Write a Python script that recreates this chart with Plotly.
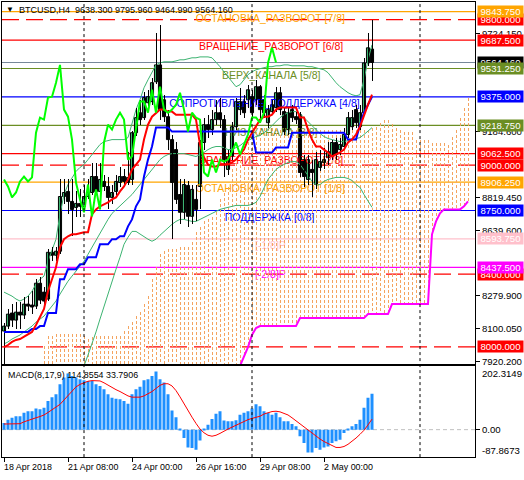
import plotly.graph_objects as go

# ---- price data: BTCUSD H4, first bar 18 Apr 2018 16:00 ----
opens = [8087, 8114, 8186, 8147, 8191, 8175, 8235, 8230, 8224, 8350,
         8301, 8263, 8520, 8504, 8526, 8827, 8855, 8800, 8767, 8789,
         8773, 8827, 8849, 8937, 8855, 8910, 8882, 8822, 8855, 8904,
         8937, 8904, 8921, 9178, 9288, 9261, 9343, 9349, 9458, 9551,
         9359, 9266, 9140, 9085, 8838, 8740, 8888, 8718, 8811, 8882,
         9124, 9222, 9195, 9250, 9288, 9250, 8976, 9047, 9211, 9305,
         9349, 9359, 9376, 9359, 9431, 9359, 9233, 9294, 9316, 9398,
         9294, 9195, 9305, 9266, 9277, 9030, 8921, 8976, 8893, 8987,
         9014, 9041, 9047, 9124, 9085, 9102, 9168, 9211, 9305, 9211,
         9288, 9562, 9638.3]
highs = [8131, 8208, 8235, 8246, 8246, 8273, 8279, 8306, 8372, 8383,
         8328, 8537, 8548, 8548, 8921, 8921, 8921, 8921, 8855, 8866,
         8893, 8921, 9014, 9014, 9014, 8948, 8937, 8893, 8948, 8987,
         8976, 9074, 9189, 9316, 9359, 9403, 9414, 9480, 9727, 9771,
         9387, 9305, 9168, 9129, 8921, 8921, 8910, 8893, 8893, 9140,
         9261, 9277, 9305, 9359, 9371, 9277, 9085, 9239, 9371, 9425,
         9387, 9442, 9414, 9469, 9442, 9387, 9332, 9359, 9431, 9431,
         9316, 9316, 9332, 9294, 9294, 9058, 9058, 9030, 9074, 9085,
         9096, 9129, 9140, 9151, 9151, 9206, 9294, 9305, 9332, 9332,
         9590, 9727, 9795.96]
lows = [7900, 8098, 8109, 8098, 8098, 8153, 8197, 8180, 8208, 8235,
        8235, 8252, 8471, 8471, 8509, 8784, 8729, 8608, 8712, 8712,
        8745, 8811, 8833, 8833, 8838, 8855, 8756, 8784, 8833, 8877,
        8888, 8888, 8893, 9162, 9222, 9250, 9327, 9332, 9447, 9250,
        9239, 9085, 8592, 8784, 8674, 8701, 8657, 8674, 8690, 8756,
        9085, 9151, 9168, 9222, 9206, 8937, 8948, 9030, 9195, 9277,
        9261, 9316, 9261, 9332, 9250, 9261, 9206, 9277, 9294, 9277,
        9168, 9168, 9239, 9228, 8932, 8882, 8893, 8827, 8866, 8965,
        8976, 9003, 9030, 9030, 9058, 9085, 9151, 9195, 9206, 9195,
        9277, 9546, 9464.99]
closes = [8114, 8180, 8147, 8191, 8175, 8235, 8224, 8219, 8350, 8257,
          8252, 8520, 8504, 8526, 8827, 8849, 8800, 8756, 8789, 8773,
          8827, 8849, 8937, 8855, 8921, 8882, 8822, 8849, 8910, 8937,
          8910, 8932, 9178, 9261, 9250, 9371, 9376, 9453, 9551, 9305,
          9266, 9140, 8904, 8811, 8740, 8893, 8718, 8866, 8756, 9124,
          9222, 9195, 9250, 9288, 9250, 9030, 9047, 9211, 9349, 9349,
          9288, 9414, 9288, 9431, 9305, 9288, 9305, 9332, 9398, 9305,
          9184, 9288, 9261, 9250, 8959, 8937, 9030, 8959, 9030, 9019,
          9030, 9074, 9124, 9058, 9113, 9168, 9261, 9261, 9233, 9288,
          9562, 9645, 9564.16]

# Ichimoku
tenkan = [7999, 8010, 8027, 8038, 8043, 8055, 8071, 8082, 8120, 8164,
          8208, 8306, 8372, 8438, 8548, 8592, 8608, 8619, 8619, 8624,
          8630, 8630, 8729, 8756, 8773, 8784, 8795, 8811, 8822, 8855,
          8882, 8921, 8976, 9003, 9030, 9140, 9222, 9266, 9288, 9305,
          9305, 9294, 9294, 9277, 9277, 9277, 9277, 9277, 9250, 9113,
          9041, 9003, 8992, 8992, 9003, 9003, 9003, 9014, 9030, 9058,
          9085, 9140, 9178, 9211, 9250, 9266, 9266, 9277, 9305, 9316,
          9316, 9316, 9316, 9316, 9261, 9261, 9195, 9140, 9102, 9102,
          9085, 9069, 9047, 9058, 9069, 9085, 9124, 9140, 9168, 9211,
          9277, 9332, 9387]
kijun = [8082, 8082, 8082, 8082, 8082, 8082, 8082, 8098, 8098, 8114,
         8114, 8186, 8186, 8186, 8372, 8372, 8427, 8427, 8427, 8454,
         8454, 8493, 8493, 8493, 8564, 8564, 8564, 8592, 8592, 8608,
         8608, 8663, 8701, 8773, 8811, 8937, 9030, 9102, 9206, 9206,
         9206, 9206, 9184, 9184, 9184, 9184, 9184, 9184, 9184, 9184,
         9184, 9184, 9184, 9184, 9184, 9184, 9184, 9184, 9184, 9184,
         9184, 9184, 9184, 9069, 9069, 9069, 9069, 9069, 9096, 9096,
         9096, 9096, 9178, 9178, 9178, 9178, 9178, 9178, 9178, 9178,
         9178, 9178, 9178, 9178, 9178, 9178, 9140, 9140, 9140, 9222,
         9288, 9332, 9376]
chikou_shift = 24
# Senkou spans start at bar 10 and run to bar 116
span_start = 10
senkou_a = [8005, 8060, 8060, 8071, 8071, 8071, 8071, 8071, 8071, 8071,
            8060, 8043, 8055, 8060, 8060, 8060, 8060, 8060, 8060, 8060,
            8087, 8114, 8136, 8169, 8191, 8235, 8279, 8372, 8438, 8509,
            8526, 8537, 8537, 8537, 8548, 8548, 8548, 8575, 8630, 8657,
            8690, 8701, 8712, 8740, 8811, 8849, 8882, 8976, 9014, 9058,
            9102, 9157, 9211, 9211, 9206, 9206, 9206, 9206, 9206, 9195,
            9195, 9195, 9195, 9195, 9195, 9195, 9195, 9195, 9195, 9195,
            9195, 9195, 9195, 9195, 9195, 9195, 9195, 9195, 9195, 9195,
            9195, 9195, 9206, 9211, 9233, 9250, 9250, 9228, 9206, 9195,
            9184, 9184, 9184, 9140, 9140, 9140, 9140, 9124, 9124, 9124,
            9124, 9113, 9157, 9195, 9261, 9316, 9370]
senkou_b = [7860, 7860, 7860, 7860, 7860, 7860, 7860, 7860, 7860, 7860,
            7860, 7860, 7860, 7860, 7860, 7860, 7860, 7860, 7860, 7860,
            7860, 7860, 7860, 7860, 7860, 7860, 7860, 7860, 7860, 7860,
            7860, 7860, 7860, 7860, 7860, 7860, 7860, 7860, 7860, 7860,
            7860, 7860, 7860, 7860, 7860, 7860, 7860, 7860, 7860, 7895,
            7944, 7999, 8065, 8103, 8114, 8114, 8114, 8114, 8114, 8114,
            8114, 8114, 8114, 8114, 8158, 8158, 8158, 8158, 8158, 8158,
            8158, 8158, 8158, 8158, 8158, 8158, 8158, 8158, 8158, 8158,
            8158, 8180, 8180, 8180, 8180, 8180, 8180, 8235, 8235, 8235,
            8235, 8235, 8235, 8235, 8235, 8235, 8235, 8619, 8690, 8734,
            8756, 8756, 8756, 8756, 8756, 8773, 8800]

# Bollinger bands
bb_upper = [8301, 8290, 8279, 8263, 8252, 8263, 8279, 8306, 8345, 8372,
            8389, 8471, 8537, 8592, 8729, 8838, 8893, 8932, 8965, 8987,
            9003, 9030, 9058, 9085, 9113, 9129, 9135, 9140, 9140, 9140,
            9140, 9151, 9222, 9305, 9360, 9425, 9469, 9513, 9551, 9562,
            9568, 9568, 9568, 9573, 9579, 9579, 9584, 9590, 9590, 9595,
            9595, 9595, 9590, 9568, 9541, 9513, 9486, 9458, 9431, 9442,
            9469, 9497, 9513, 9524, 9530, 9535, 9541, 9541, 9546, 9546,
            9551, 9551, 9546, 9546, 9546, 9546, 9541, 9541, 9535, 9530,
            9524, 9508, 9480, 9453, 9431, 9414, 9398, 9387, 9381, 9387,
            9469, 9579, 9661]
bb_middle = [8016, 8027, 8043, 8055, 8065, 8082, 8098, 8114, 8136, 8153,
             8169, 8197, 8224, 8252, 8290, 8328, 8361, 8389, 8416, 8443,
             8471, 8509, 8548, 8592, 8630, 8663, 8701, 8734, 8756, 8778,
             8800, 8817, 8838, 8866, 8893, 8921, 8948, 8976, 9003, 9030,
             9047, 9058, 9063, 9063, 9063, 9063, 9058, 9052, 9047, 9058,
             9069, 9085, 9096, 9102, 9102, 9096, 9085, 9085, 9096, 9107,
             9124, 9135, 9146, 9157, 9162, 9178, 9195, 9217, 9239, 9261,
             9277, 9288, 9294, 9294, 9283, 9261, 9239, 9217, 9195, 9173,
             9157, 9146, 9140, 9135, 9129, 9129, 9135, 9140, 9146, 9151,
             9168, 9189, 9206]
bb_lower = [7741, 7758, 7780, 7802, 7824, 7835, 7840, 7846, 7846, 7840,
            7835, 7813, 7780, 7741, 7714, 7725, 7752, 7785, 7824, 7862,
            7895, 7955, 8016, 8082, 8153, 8224, 8295, 8361, 8427, 8493,
            8564, 8603, 8635, 8635, 8619, 8608, 8592, 8581, 8592, 8614,
            8635, 8657, 8674, 8690, 8701, 8701, 8696, 8690, 8690, 8701,
            8712, 8723, 8734, 8745, 8756, 8762, 8767, 8773, 8778, 8778,
            8778, 8778, 8784, 8795, 8827, 8877, 8921, 8948, 8976, 8992,
            9003, 9014, 9019, 9019, 9003, 8976, 8943, 8910, 8888, 8893,
            8910, 8921, 8926, 8932, 8932, 8932, 8926, 8915, 8893, 8877,
            8838, 8800, 8767]

# MACD(8,17,9)
macd_hist = [21.6, 32, 38, 43, 43, 54, 59, 59, 68, 65,
             70, 92, 104, 113, 145, 167, 180, 172, 167, 161,
             158, 156, 156, 145, 140, 129, 113, 102, 99, 97,
             92, 83, 113, 129, 137, 158, 161, 172, 186, 161,
             151, 113, 61, 40, 2, -27, -57, -59, -64, -35,
             3, 16, 34, 51, 59, 29, 27, 27, 30, 48,
             54, 59, 68, 81, 75, 59, 54, 48, 54, 40,
             27, 27, 18, 11, -21, -43, -73, -73, -59, -64,
             -57, -54, -43, -37, -32, -11, 3, 11, 18, 32,
             70, 102, 114.8554]
macd_signal = [18, 18, 18, 18, 19, 25, 30, 35, 38, 42,
               47, 55, 63, 72, 81, 95, 110, 125, 137, 145,
               151, 155, 157, 157, 156, 150, 142, 135, 128, 122,
               115, 108, 104, 103, 104, 108, 114, 122, 132, 142,
               147, 147, 140, 125, 105, 82, 60, 40, 20, 2,
               -10, -18, -21, -18, -12, -4, 2, 8, 14, 20,
               27, 32, 36, 40, 43, 50, 55, 58, 59, 57,
               52, 47, 38, 28, 18, 8, 0, -10, -20, -30,
               -38, -45, -52, -57, -57, -54, -47, -38, -27, -15,
               -2, 15, 33.7906]

# levels drawn on the chart
level_prices = [9843.75, 9800.0, 9687.5, 9564.16, 9531.25, 9375.0, 9218.75, 9062.5,
                9000.0, 8906.25, 8750.0, 8593.75, 8437.5, 8400.0, 8000.0]
level_colors = ["#FFA500", "#FF0000", "#FF0000", "#778899", "#6B8E23", "#0000FF", "#6B8E23",
                "#FF0000", "#FF0000", "#FFA500", "#0000FF", "#FFC0CB", "#FF00FF", "#FF0000",
                "#FF0000"]
level_dash = ["solid", "17px,7px", "solid", "solid", "solid", "solid", "solid", "solid",
              "17px,7px", "solid", "solid", "solid", "solid", "17px,7px", "17px,7px"]

murray_prices = [9843.75, 9687.5, 9531.25, 9375.0, 9218.75, 9062.5, 8906.25, 8750.0,
                 8593.75, 8437.5]
murray_names = ["ОСТАНОВКА_РАЗВОРОТ [7/8]", "ВРАЩЕНИЕ_РАЗВОРОТ [6/8]", "ВЕРХ_КАНАЛА [5/8]",
                "СОПРОТИВЛЕНИЕ_ПОДДЕРЖКА [4/8]", "НИЗ_КАНАЛА [3/8]",
                "ВРАЩЕНИЕ_РАЗВОРОТ [2/8]", "ОСТАНОВКА_РАЗВОРОТ [1/8]", "ПОДДЕРЖКА [0/8]",
                "[-1/8]P", "[-2/8]P"]
murray_colors = ["#FFA500", "#FF0000", "#6B8E23", "#0000FF", "#6B8E23", "#FF0000",
                 "#FFA500", "#0000FF", "#FFC0CB", "#FF00FF"]
murray_x = [66.6, 66.8, 66.8, 65.1, 66.8, 66.8, 66.6, 66.4, 66.6, 66.6]

# right scale boxes, in drawing order (later ones on top)
box_prices = [8000.0, 8400.0, 8437.5, 8593.75, 8750.0, 8906.25, 9000.0, 9062.5,
              9218.75, 9375.0, 9564.16, 9531.25, 9687.5, 9800.0, 9843.75]
box_colors = ["#FF0000", "#FF0000", "#FF00FF", "#FFC0CB", "#0000FF", "#FFA500", "#FF0000",
              "#FF0000", "#6B8E23", "#0000FF", "#000000", "#6B8E23", "#FF0000", "#FF0000",
              "#FFA500"]

price_ticks = [9724.15, 9184.6, 8819.45, 8639.6, 8279.9, 8100.05, 7920.2]
time_ticks = [0, 16, 32, 48, 64, 80]
time_labels = ["18 Apr 2018", "21 Apr 08:00", "24 Apr 00:00", "26 Apr 16:00",
               "29 Apr 08:00", "2 May 00:00"]
week_separators = [20, 62, 104]

FONT = "Liberation Sans"
W, H = 524, 480
Y_MIN, Y_MAX = 7903, 9897
MAIN_TOP, MAIN_BOT = 2, 366
px_price = (Y_MAX - Y_MIN) / (MAIN_BOT - MAIN_TOP)   # price units per pixel

n = len(closes)
bars = list(range(n))

fig = go.Figure()

# murray level captions (behind the price), just under their line
for p, name, c, xx in zip(murray_prices, murray_names, murray_colors, murray_x):
    fig.add_trace(go.Scatter(x=[xx], y=[p - 2.5 * px_price], mode="text", text=[name],
                             textposition="bottom center",
                             textfont=dict(family=FONT, size=10.5, color=c),
                             hoverinfo="skip"))

# kumo hatch (trace 10)
hx, hy = [], []
for k, (a, b) in enumerate(zip(senkou_a, senkou_b)):
    i = span_start + k
    hx += [i, i, None]
    hy += [a, b, None]
fig.add_trace(go.Scatter(x=hx, y=hy, mode="lines",
                         line=dict(color="#F4A460", width=1, dash="3px,2px"),
                         hoverinfo="skip"))
span_x = list(range(span_start, span_start + len(senkou_b)))
fig.add_trace(go.Scatter(x=span_x, y=senkou_b, mode="lines",
                         line=dict(color="#FF00FF", width=2), hoverinfo="skip"))

# bollinger
for band in (bb_upper, bb_middle, bb_lower):
    fig.add_trace(go.Scatter(x=bars, y=band, mode="lines",
                             line=dict(color="#3CB371", width=1), hoverinfo="skip"))

# candles: wicks (trace 15) then bodies
wx, wy = [], []
for i in bars:
    wx += [i, i, None]
    wy += [lows[i], highs[i], None]
fig.add_trace(go.Scatter(x=wx, y=wy, mode="lines", line=dict(color="black", width=1),
                         hoverinfo="skip"))
body_base = [min(o, c) for o, c in zip(opens, closes)]
body_len = [max(abs(c - o), 4) for o, c in zip(opens, closes)]
body_col = ["#3CB371" if c >= o else "black" for o, c in zip(opens, closes)]
fig.add_trace(go.Bar(x=bars, y=body_len, base=body_base, width=0.78,
                     marker=dict(color=body_col, line=dict(color="black", width=1)),
                     hoverinfo="skip"))

# ichimoku lines
fig.add_trace(go.Scatter(x=bars, y=kijun, mode="lines", line=dict(color="#0000FF", width=2),
                         hoverinfo="skip"))
fig.add_trace(go.Scatter(x=bars, y=tenkan, mode="lines", line=dict(color="#FF0000", width=2),
                         hoverinfo="skip"))
fig.add_trace(go.Scatter(x=bars[:n - chikou_shift], y=closes[chikou_shift:], mode="lines",
                         line=dict(color="#00FF00", width=2), hoverinfo="skip"))

# MACD panel
fig.add_trace(go.Bar(x=bars, y=macd_hist, width=0.75, marker=dict(color="#1E90FF", line_width=0),
                     xaxis="x2", yaxis="y2", hoverinfo="skip"))
fig.add_trace(go.Scatter(x=bars, y=macd_signal, mode="lines", line=dict(color="#FF0000", width=1),
                         xaxis="x2", yaxis="y2", hoverinfo="skip"))

shapes = []
for p, c, d in zip(level_prices, level_colors, level_dash):
    shapes.append(dict(type="line", xref="x domain", yref="y", x0=0, x1=1, y0=p, y1=p,
                       line=dict(color=c, width=1.2, dash=d), layer="below"))
shapes.append(dict(type="line", xref="x2 domain", yref="y2", x0=0, x1=1, y0=0, y1=0,
                   line=dict(color="#C0C0C0", width=1, dash="4px,3px"), layer="below"))
for s in week_separators:
    shapes.append(dict(type="line", xref="x", yref="paper", x0=s, x1=s,
                       y0=1 - 459 / H, y1=1 - 2 / H,
                       line=dict(color="black", width=1, dash="3px,3px")))

ann = []
ann.append(dict(text="▼", xref="paper", yref="paper", x=4 / W, y=1 - 10 / H, xanchor="left",
                yanchor="middle", showarrow=False, font=dict(family=FONT, size=8, color="black")))
ann.append(dict(text="BTCUSD,H4  9638.300 9795.960 9464.990 9564.160", xref="paper",
                yref="paper", x=17 / W, y=1 - 10 / H, xanchor="left", yanchor="middle",
                showarrow=False, font=dict(family=FONT, size=9, color="black")))
ann.append(dict(text="MACD(8,17,9) 114.8554 33.7906", xref="paper", yref="paper",
                x=6 / W, y=1 - 377 / H, xanchor="left", yanchor="middle", showarrow=False,
                font=dict(family=FONT, size=8.9, color="black")))
for t, lab in zip(time_ticks, time_labels):
    ann.append(dict(text=lab, xref="x2", yref="paper", x=t, y=1 - 469 / H, xanchor="left",
                    yanchor="middle", xshift=-2, showarrow=False,
                    font=dict(family=FONT, size=8.9, color="black")))
for p, c in zip(box_prices, box_colors):
    ann.append(dict(text="%.3f" % p, xref="paper", yref="y", x=477 / W, y=p, xanchor="left",
                    yanchor="middle", showarrow=False, bgcolor=c, borderpad=0, width=45,
                    font=dict(family=FONT, size=9.6, color="white")))
ann.append(dict(text="202.3149", xref="paper", yref="paper", x=480 / W, y=1 - 375 / H,
                xanchor="left", yanchor="middle", showarrow=False,
                font=dict(family=FONT, size=9.6, color="black")))
ann.append(dict(text="-87.8673", xref="paper", yref="paper", x=480 / W, y=1 - 452 / H,
                xanchor="left", yanchor="middle", showarrow=False,
                font=dict(family=FONT, size=9.6, color="black")))

axis_common = dict(showgrid=False, zeroline=False, showline=True, mirror=True,
                   linecolor="black", linewidth=1)
xdom = [2 / W, 475 / W]
xr = [-0.5, 117.75]

fig.update_layout(
    width=W, height=H, margin=dict(l=0, r=0, t=0, b=0),
    paper_bgcolor="white", plot_bgcolor="white", showlegend=False,
    barmode="overlay",
    xaxis=dict(domain=xdom, range=xr, showticklabels=False, ticks="", anchor="y",
               **axis_common),
    yaxis=dict(domain=[1 - MAIN_BOT / H, 1 - MAIN_TOP / H], range=[Y_MIN, Y_MAX], side="right",
               tickvals=price_ticks, ticktext=["%.3f" % v for v in price_ticks],
               ticks="outside", ticklen=4, tickcolor="black",
               tickfont=dict(family=FONT, size=9.6, color="black"), anchor="x",
               **axis_common),
    xaxis2=dict(domain=xdom, range=xr, matches="x", anchor="y2", tickvals=time_ticks,
                ticks="outside", ticklen=4, tickcolor="black", showticklabels=False,
                **axis_common),
    yaxis2=dict(domain=[1 - 459 / H, 1 - 368 / H], range=[-87.8673, 202.3149], side="right",
                tickvals=[0], ticktext=["0.00"], ticks="outside", ticklen=4,
                tickcolor="black", tickfont=dict(family=FONT, size=9.6, color="black"),
                anchor="x2", **axis_common),
    shapes=shapes, annotations=ann,
)

# no body margin, and pixel-sharp hatch and wick lines like the terminal draws them
post = """
document.body.style.margin = '0';
var tr = document.querySelectorAll('.subplot.xy .scatterlayer .trace');
[10, 15].forEach(function (i) {
    if (tr[i]) tr[i].querySelectorAll('path').forEach(function (p) {
        p.style.shapeRendering = 'crispEdges';
    });
});
"""
fig.write_html("out.html", config={"displayModeBar": False}, post_script=post)
